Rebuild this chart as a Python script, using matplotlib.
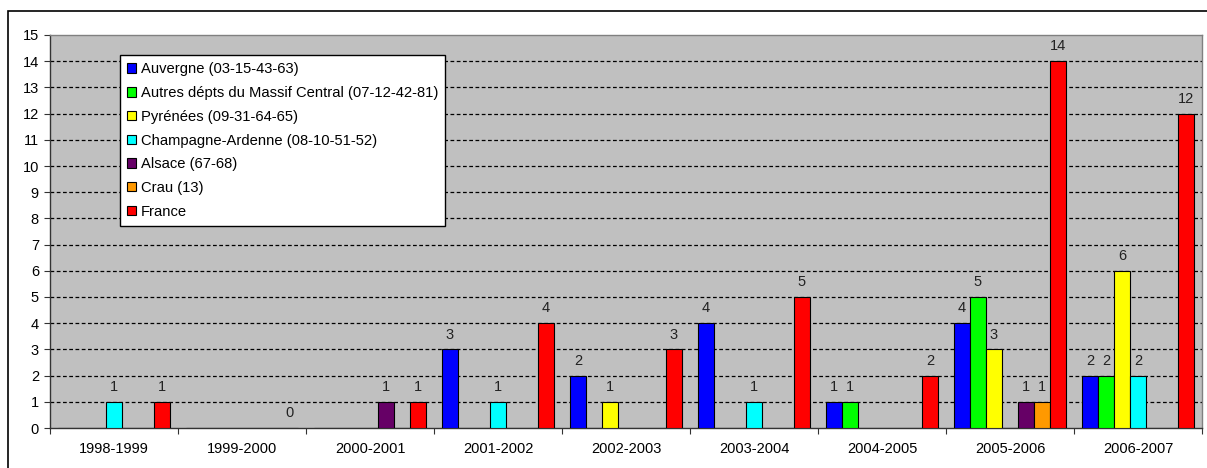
import numpy as np
import matplotlib
matplotlib.use("Agg")
import matplotlib.pyplot as plt
from matplotlib.patches import Rectangle

plt.rcParams['font.family'] = ['Liberation Sans', 'DejaVu Sans']

categories = ["1998-1999", "1999-2000", "2000-2001", "2001-2002", "2002-2003",
              "2003-2004", "2004-2005", "2005-2006", "2006-2007"]
nan = np.nan
series_names = ["Auvergne (03-15-43-63)",
                "Autres dépts du Massif Central (07-12-42-81)",
                "Pyrénées (09-31-64-65)",
                "Champagne-Ardenne (08-10-51-52)",
                "Alsace (67-68)",
                "Crau (13)",
                "France"]
auvergne = [nan, nan, nan, 3, 2, 4, 1, 4, 2]
autres = [nan, nan, nan, nan, nan, nan, 1, 5, 2]
pyrenees = [nan, nan, nan, nan, 1, nan, nan, 3, 6]
champagne = [1, nan, nan, 1, nan, 1, nan, nan, 2]
alsace = [nan, nan, 1, nan, nan, nan, nan, 1, nan]
crau = [nan, nan, nan, nan, nan, nan, nan, 1, nan]
france = [1, 0, 1, 4, 3, 5, 2, 14, 12]
colors = ["#0000FF", "#00FF00", "#FFFF00", "#00FFFF", "#660066", "#FF9900", "#FF0000"]
yticks = list(range(0, 16))

all_series = [auvergne, autres, pyrenees, champagne, alsace, crau, france]

W, H = 1207, 468
fig = plt.figure(figsize=(W / 100, H / 100), dpi=100)
fig.patch.set_facecolor("white")
ax = fig.add_axes([50 / W, 40 / H, 1152 / W, 393 / H])
ax.set_facecolor("#C0C0C0")

x = np.arange(len(categories))
bw = 1 / 8
handles = []
for j, (vals, col, name) in enumerate(zip(all_series, colors, series_names)):
    v = np.array(vals, dtype=float)
    pos = x + (j - 3) * bw
    b = ax.bar(pos, np.nan_to_num(v), width=bw, color=col, edgecolor="black",
               linewidth=0.8, zorder=3, label=name)
    handles.append(b)
    for xi, vi in zip(pos, v):
        if not np.isnan(vi):
            ax.text(xi, vi + 0.3, f"{int(vi)}", ha="center", va="bottom",
                    fontsize=10.5, color="#222222", zorder=4)

ax.set_xlim(-0.5, len(categories) - 0.5)
ax.set_ylim(0, 15)
ax.set_yticks(yticks)
ax.set_yticklabels([str(t) for t in yticks], fontsize=10.5)
for t in yticks[1:-1]:
    ax.axhline(t, color="black", linestyle=(0, (3, 2)), linewidth=0.9, zorder=1)

ax.set_xticks(np.arange(len(categories) + 1) - 0.5)
ax.set_xticklabels([])
ax.set_xticks(x, minor=True)
ax.set_xticklabels(categories, minor=True, fontsize=10.5)
ax.tick_params(axis="x", which="minor", length=0, pad=10)
ax.tick_params(axis="x", which="major", length=4, direction="out", color="#333333")
ax.tick_params(axis="y", length=4, direction="out", pad=4, color="#333333")

for s in ["top", "right"]:
    ax.spines[s].set_color("#808080")
    ax.spines[s].set_linewidth(1)
for s in ["left", "bottom"]:
    ax.spines[s].set_color("#333333")
    ax.spines[s].set_linewidth(1)

leg = fig.legend(handles=handles, loc="upper left",
                 bbox_to_anchor=(120 / W, 1 - 55 / H), bbox_transform=fig.transFigure,
                 fontsize=10.6, frameon=True, fancybox=False, shadow=False,
                 handlelength=0.6, handleheight=0.6, handletextpad=0.3,
                 labelspacing=0.66, borderpad=0.5, borderaxespad=0)
leg.get_frame().set_edgecolor("black")
leg.get_frame().set_linewidth(1)
leg.get_frame().set_facecolor("white")
leg.get_frame().set_alpha(1)

# outer chart-area border (extends beyond the right and bottom image edges)
fig.patches.append(Rectangle((8 / W, -10 / H), 1210 / W, (H - 11 + 10) / H,
                             transform=fig.transFigure, fill=False,
                             edgecolor="black", linewidth=1.2))

fig.savefig("out.png", dpi=100)
